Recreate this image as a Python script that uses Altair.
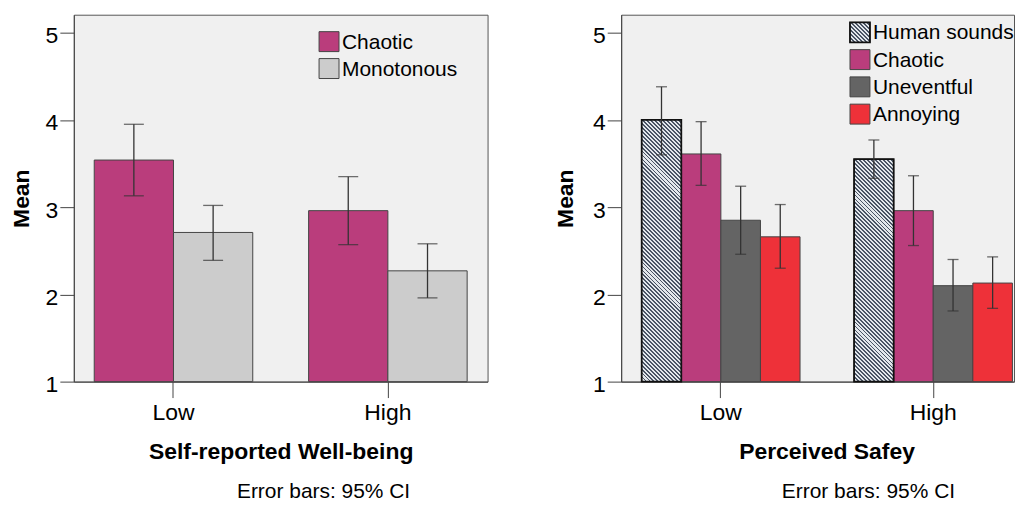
import altair as alt
import pandas as pd

# ---------------- data ----------------
groups = ["Low", "High"]

wb_series = ["Chaotic", "Monotonous"]
wb_group = ["Low", "Low", "High", "High"]
wb_cat = ["Chaotic", "Monotonous", "Chaotic", "Monotonous"]
wb_mean = [3.54, 2.71, 2.96, 2.27]
wb_lo = [3.13, 2.39, 2.57, 1.96]
wb_hi = [3.95, 3.02, 3.35, 2.58]

ps_series = ["Human sounds", "Chaotic", "Uneventful", "Annoying"]
ps_group = ["Low", "Low", "Low", "Low", "High", "High", "High", "High"]
ps_cat = ["Human sounds", "Chaotic", "Uneventful", "Annoying",
          "Human sounds", "Chaotic", "Uneventful", "Annoying"]
ps_mean = [4.00, 3.61, 2.85, 2.66, 3.55, 2.96, 2.10, 2.13]
ps_lo = [3.60, 3.25, 2.46, 2.30, 3.33, 2.56, 1.81, 1.84]
ps_hi = [4.38, 3.98, 3.24, 3.03, 3.77, 3.36, 2.40, 2.43]

palette = {
    "Human sounds": "#8a93a0",
    "Chaotic": "#ba3d7c",
    "Monotonous": "#cccccc",
    "Uneventful": "#646464",
    "Annoying": "#ee3139",
}

FONT = "Liberation Sans"
H = 368
YMIN, YMAX = 1.0, 5.206


def hatch(w, h, period=4.0, dark="#4a5465", light="#e3e7ec", duty=0.48):
    """Diagonal '\\' stripes as a bounding-box linear gradient."""
    k = (w + h) / (w * w + h * h)
    n = max(1, int(round((w + h) / period)))
    stops = []
    for i in range(n):
        a, b, c = i / n, (i + duty) / n, (i + 1) / n
        stops += [
            alt.GradientStop(color=dark, offset=a),
            alt.GradientStop(color=dark, offset=b),
            alt.GradientStop(color=light, offset=b),
            alt.GradientStop(color=light, offset=c),
        ]
    return alt.LinearGradient(gradient="linear", stops=stops,
                              x1=0, y1=1, x2=k * w, y2=1 - k * h)


def panel(gcol, ccol, mean, lo, hi, series, W, pi, po, al, cap, xtitle,
          xtitle_x, ytitle_pad, leg_x, leg_range, note_dx):
    df = pd.DataFrame({"group": gcol, "series": ccol, "mean": mean,
                       "lo": lo, "hi": hi})
    xaxis = alt.Axis(title=xtitle, labelAngle=0, labelFontSize=23, tickSize=16,
                     labelPadding=4, titleFontSize=23, titleFontWeight="bold",
                     titlePadding=16, bandPosition=0.5, titleX=xtitle_x)
    xenc = alt.X("group:N", sort=groups,
                 scale=alt.Scale(domain=groups, paddingInner=pi,
                                 paddingOuter=po, align=al),
                 axis=xaxis)
    xoff = alt.XOffset("series:N", sort=series,
                       scale=alt.Scale(domain=series, paddingInner=0,
                                       paddingOuter=0))
    yscale = alt.Scale(domain=[YMIN, YMAX], nice=False, zero=False)
    yaxis = alt.Axis(title="Mean", values=[1, 2, 3, 4, 5], format="d",
                     labelFontSize=23, tickSize=14, labelPadding=2,
                     labelOffset=3, titleFontSize=23, titleFontWeight="bold",
                     titlePadding=ytitle_pad)
    fill = alt.Fill("series:N",
                    scale=alt.Scale(domain=series,
                                    range=[palette[s] for s in series]),
                    legend=None)
    base = alt.Chart(df)
    layers = [
        base.mark_bar(stroke="#444", strokeWidth=1).encode(
            x=xenc, xOffset=xoff,
            y=alt.Y("mean:Q", scale=yscale, axis=yaxis),
            y2=alt.datum(YMIN), fill=fill)
    ]
    if "Human sounds" in series:
        step = W / (len(groups) - pi + 2 * po)
        bw = step * (1 - pi) / len(series)
        for g, s, m in zip(gcol, ccol, mean):
            if s != "Human sounds":
                continue
            hpx = (m - YMIN) / (YMAX - YMIN) * H
            layers.append(
                base.transform_filter(
                    (alt.datum.series == s) & (alt.datum.group == g)
                ).mark_bar(fill=hatch(bw, hpx), stroke="#111",
                           strokeWidth=1.8).encode(
                    x=xenc, xOffset=xoff,
                    y=alt.Y("mean:Q", scale=yscale, axis=yaxis),
                    y2=alt.datum(YMIN))
            )
    layers.append(
        base.mark_rule(color="#333", strokeWidth=1.3).encode(
            x=xenc, xOffset=xoff,
            y=alt.Y("lo:Q", scale=yscale, axis=yaxis), y2="hi:Q"))
    for col in ["lo", "hi"]:
        layers.append(
            base.mark_tick(color="#333", thickness=1.3, size=cap,
                           orient="horizontal").encode(
                x=xenc, xOffset=xoff,
                y=alt.Y(f"{col}:Q", scale=yscale, axis=yaxis)))
    data_layer = alt.layer(*layers)

    leg_df = pd.DataFrame({"series": series})
    ly = alt.Y("series:N", sort=series,
               scale=alt.Scale(domain=series, range=leg_range, padding=0),
               axis=None)
    lbase = alt.Chart(leg_df)
    leg_layers = [
        lbase.mark_square(size=400, stroke="#444", strokeWidth=1, opacity=1,
                          fillOpacity=1).encode(
            x=alt.value(leg_x + 10), y=ly, fill=fill)
    ]
    if "Human sounds" in series:
        leg_layers.append(
            lbase.transform_filter(alt.datum.series == "Human sounds")
            .mark_square(size=400, fill=hatch(20, 20), stroke="#111",
                         strokeWidth=1.8, opacity=1, fillOpacity=1)
            .encode(x=alt.value(leg_x + 10), y=ly))
    leg_layers.append(
        lbase.mark_text(align="left", baseline="middle", fontSize=21,
                        font=FONT, color="black", dy=1).encode(
            x=alt.value(leg_x + 23), y=ly, text="series:N"))
    legend = alt.layer(*leg_layers)

    return alt.layer(data_layer, legend).resolve_scale(
        y="independent").properties(
        width=W, height=H,
        title=alt.TitleParams("Error bars: 95% CI", orient="bottom",
                              anchor="middle", dx=note_dx, fontSize=21,
                              fontWeight="normal", font=FONT, color="black",
                              offset=18))


W_L = 415
W_R = 394
left = panel(wb_group, wb_cat, wb_mean, wb_lo, wb_hi, wb_series, W_L,
             0.2605, 0.0953, 0.5, 20, "Self-reported Well-being",
             W_L / 2, 12, 246, [27, 54], 43)
right = panel(ps_group, ps_cat, ps_mean, ps_lo, ps_hi, ps_series, W_R,
              0.2545, 0.0521, 0.928, 11, "Perceived Safey",
              206, 15, 229.5, [17.7, 99.7], 51)

chart = alt.hconcat(left, right, spacing=65).resolve_scale(
    x="independent", y="independent", xOffset="independent",
    fill="independent"
).properties(
    padding={"left": 1, "top": 5, "right": 0, "bottom": 0},
    background="white",
).configure_view(
    stroke="#555", strokeWidth=1, fill="#f0f0f0"
).configure_axis(
    domainColor="#444", tickColor="#444", labelColor="black",
    titleColor="black", labelFont=FONT, titleFont=FONT, grid=False
).configure_title(font=FONT)

chart.save("out.html", embed_options={"renderer": "svg", "actions": False})
